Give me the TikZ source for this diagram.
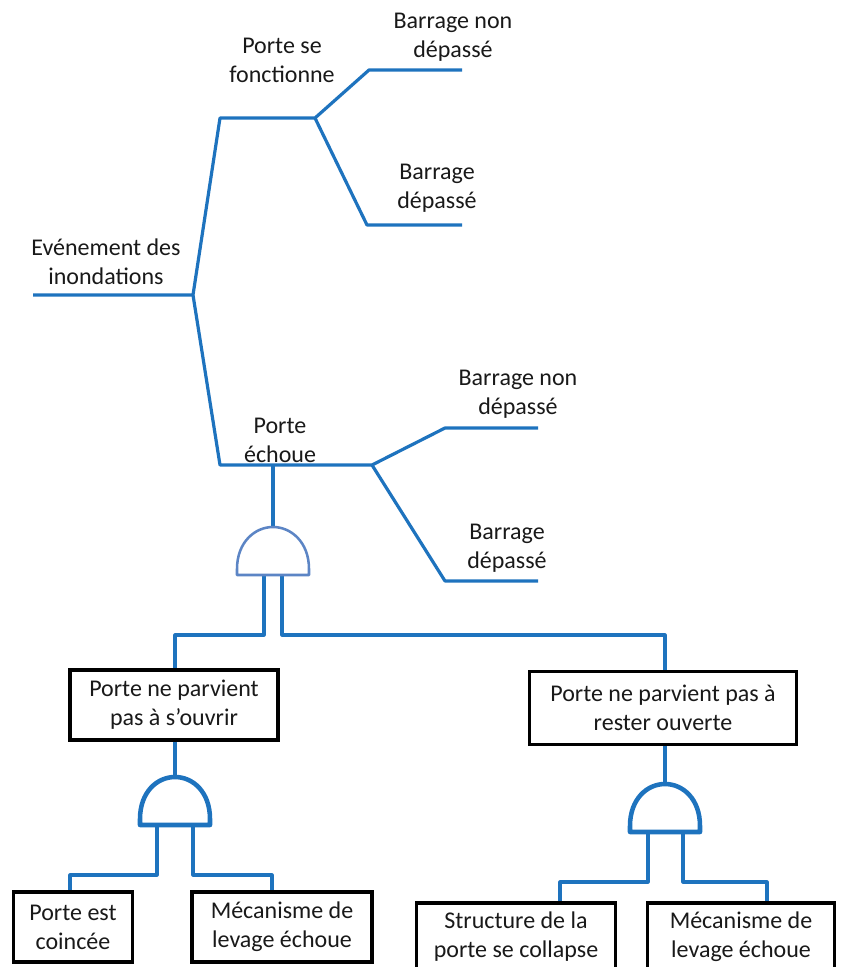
\documentclass[tikz,border=0pt]{standalone}
\usepackage{fontspec}
\setmainfont{Carlito}
\newcommand\fs{\fontsize{18}{21.75}\selectfont}
\definecolor{lineblue}{HTML}{1E73BE}
\definecolor{gatepale}{HTML}{5C85C5}
\begin{document}
\begin{tikzpicture}[x=0.75pt,y=-0.75pt,
  conn/.style={draw=lineblue, line width=2.4pt, line join=round},
  lbl/.style={font=\fs, align=center, inner sep=0pt, text=black!90},
  evbox/.style={draw=black, line width=2.3pt, font=\fs, align=center, inner sep=0pt, text=black!90},
  gatebold/.style={draw=lineblue, line width=3.4pt, fill=white, line join=round},
  gatethin/.style={draw=gatepale, line width=1.9pt, fill=white, line join=round}]
\useasboundingbox (0,0) rectangle (845,967);
\clip (0,0) rectangle (845,967);

% ---- event tree coordinates
\coordinate (r0) at (33,295);
\coordinate (r1) at (193,295);
\coordinate (u0) at (220,118);
\coordinate (u1) at (315,118);
\coordinate (ua) at (369,70);
\coordinate (uae) at (462,70);
\coordinate (ub) at (367,225);
\coordinate (ube) at (462,225);
\coordinate (l0) at (220,465);
\coordinate (l1) at (372,465);
\coordinate (lt) at (273,465);
\coordinate (la) at (445,428);
\coordinate (lae) at (538,428);
\coordinate (lb) at (445,581);
\coordinate (lbe) at (538,581);

% ---- labels
\node[lbl] (ev)  at (106,262) {Evénement des\\inondations};
\node[lbl] (pf)  at (282,60)  {Porte se\\fonctionne};
\node[lbl] (bn1) at (453,37)  {Barrage non\\dépassé};
\node[lbl] (bd1) at (437,188) {Barrage\\dépassé};
\node[lbl] (pe)  at (280,440) {Porte\\échoue};
\node[lbl] (bn2) at (518,394) {Barrage non\\dépassé};
\node[lbl] (bd2) at (507,548) {Barrage\\dépassé};

% ---- event tree lines
\draw[conn] (r0) -- (r1) -- (u0) -- (u1) -- (ua) -- (uae);
\draw[conn] (u1) -- (ub) -- (ube);
\draw[conn] (r1) -- (l0) -- (l1) -- (la) -- (lae);
\draw[conn] (l1) -- (lb) -- (lbe);

% ---- boxes (sizes in pt = px * 0.75)
\node[evbox, minimum width=156pt, minimum height=52.5pt] (b1) at (174,705) {Porte ne parvient\\pas à s’ouvrir};
\node[evbox, minimum width=200pt, minimum height=55pt] (b2) at (663,708) {Porte ne parvient pas à\\rester ouverte};
\node[evbox, minimum width=89pt, minimum height=52.5pt] (b3) at (73,927) {Porte est\\coincée};
\node[evbox, minimum width=135pt, minimum height=52.5pt] (b4) at (282,927) {Mécanisme de\\levage échoue};
\node[evbox, minimum width=149pt, minimum height=51pt] (b5) at (516,937) {Structure de la\\porte se collapse};
\node[evbox, minimum width=140pt, minimum height=51pt] (b6) at (741,937) {Mécanisme de\\levage échoue};

% ---- gate 1 (top)
\coordinate (g1t) at (273,527);
\coordinate (g1a) at (264,575);
\coordinate (g1b) at (282,575);
\coordinate (k1) at (175,635);
\coordinate (k2) at (665,635);
\draw[conn] (lt) -- (g1t);
\draw[conn] (g1a) |- (k1) -- (k1 |- b1.north);
\draw[conn] (g1b) |- (k2) -- (k2 |- b2.north);
\draw[gatethin] (237,575) -- (237,569) .. controls (237,542) and (255,527) .. (273,527)
  .. controls (291,527) and (309,542) .. (309,569) -- (309,575) -- cycle;

% ---- gate 2 (left)
\coordinate (g2t) at (175,777);
\coordinate (g2a) at (157,825);
\coordinate (g2b) at (193,825);
\coordinate (k3) at (70,875);
\coordinate (k4) at (272,875);
\draw[conn] (b1.south -| g2t) -- (g2t);
\draw[conn] (g2a) |- (k3) -- (k3 |- b3.north);
\draw[conn] (g2b) |- (k4) -- (k4 |- b4.north);
\draw[gatebold] (140,825) -- (140,819) .. controls (140,792) and (157,777) .. (175,777)
  .. controls (193,777) and (210,792) .. (210,819) -- (210,825) -- cycle;

% ---- gate 3 (right)
\coordinate (g3t) at (665,784);
\coordinate (g3a) at (648,832);
\coordinate (g3b) at (683,832);
\coordinate (k5) at (560,882);
\coordinate (k6) at (767,882);
\draw[conn] (b2.south -| g3t) -- (g3t);
\draw[conn] (g3a) |- (k5) -- (k5 |- b5.north);
\draw[conn] (g3b) |- (k6) -- (k6 |- b6.north);
\draw[gatebold] (630,832) -- (630,826) .. controls (630,799) and (647,784) .. (665,784)
  .. controls (683,784) and (700,799) .. (700,826) -- (700,832) -- cycle;
\end{tikzpicture}
\end{document}
